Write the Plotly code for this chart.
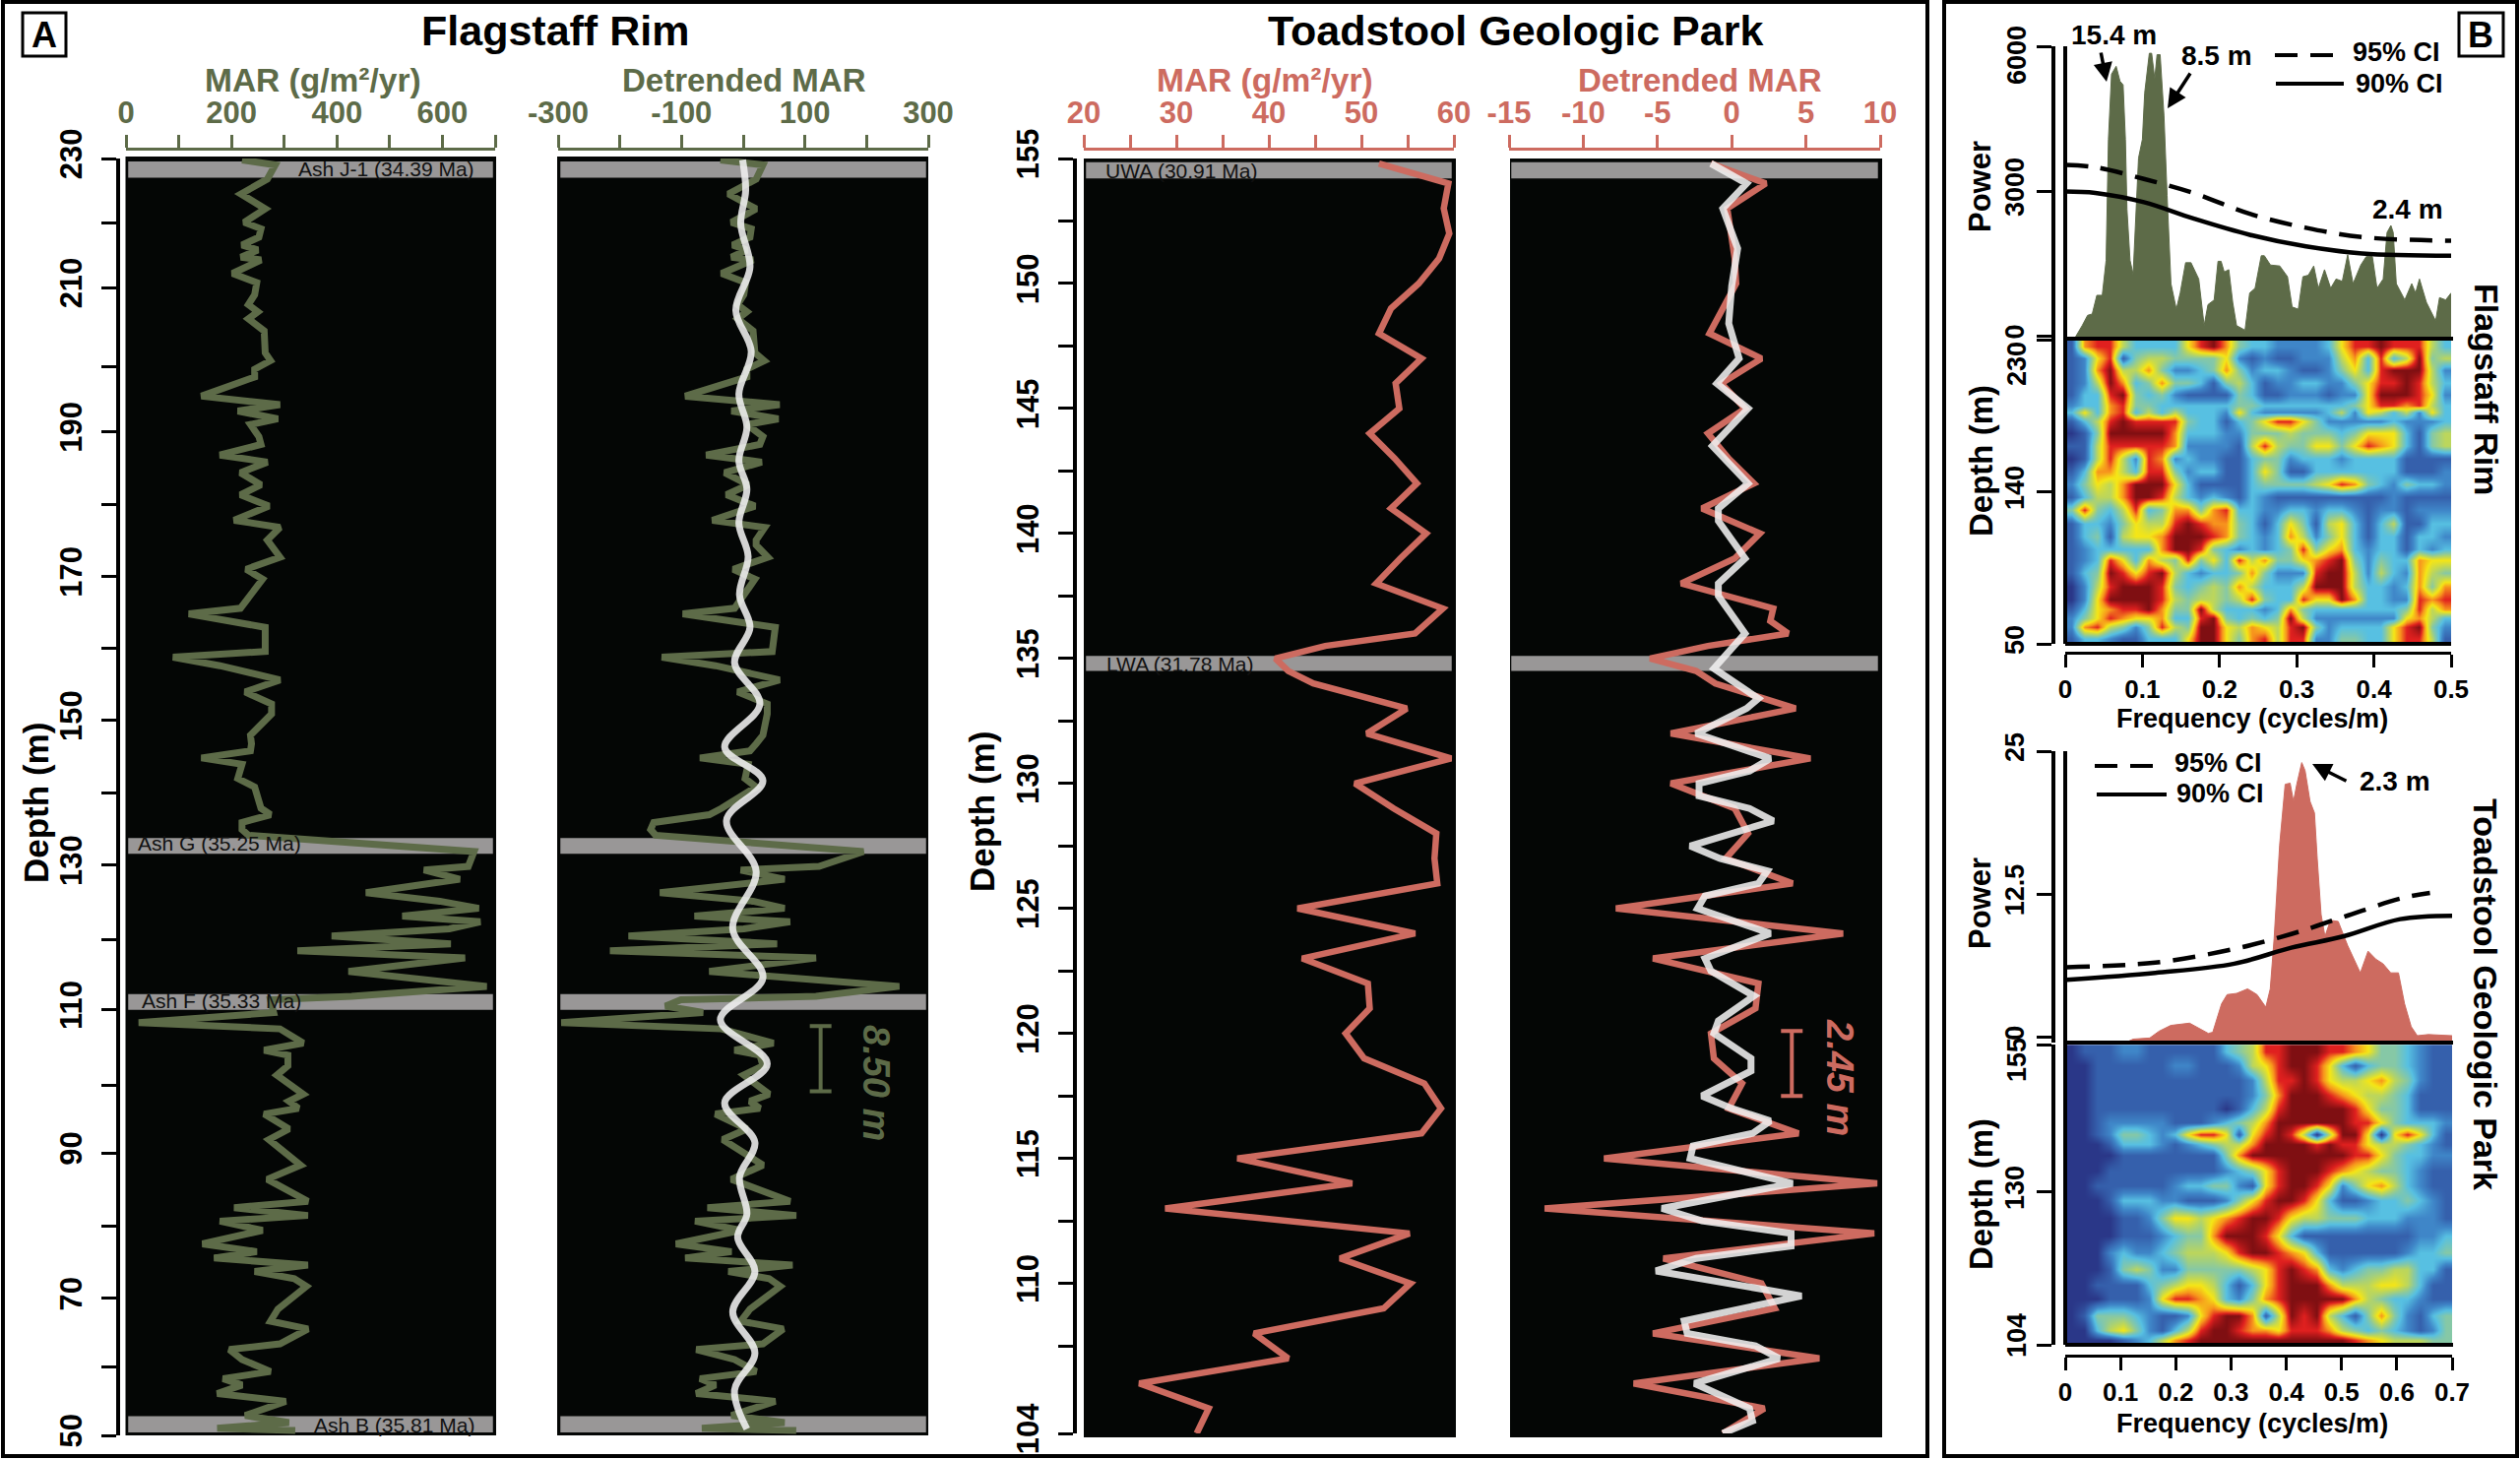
import plotly.graph_objects as go

W, H = 2560, 1482
FONT = "Liberation Sans"
GREEN = "#5d6b48"
SALMON = "#cd6b60"
BLACK = "#040605"
ASH = "#999797"
WHITE_LINE = "rgba(240,240,240,0.88)"

# Flagstaff Rim
fr_depth = [229.8, 229.1, 227.1, 225.0, 222.9, 221.0, 220.1, 218.9, 217.8, 217.1,
            216.1, 215.7, 213.8, 212.5, 210.8, 209.4, 208.4, 207.4, 205.7, 202.6,
            201.5, 200.3, 199.2, 196.5, 195.3, 194.4, 193.3, 192.5, 190.8, 189.7,
            188.2, 187.2, 185.7, 184.0, 182.6, 181.0, 179.0, 178.0, 176.2, 175.5,
            173.8, 172.1, 170.7, 166.6, 165.8, 163.9, 160.5, 159.7, 158.5, 156.5,
            154.8, 153.1, 151.7, 148.7, 147.5, 146.5, 145.5, 144.6, 142.6, 141.4,
            138.4, 137.5, 136.4, 135.4, 134.6, 132.3, 130.2, 129.7, 128.4, 126.5,
            125.3, 124.3, 123.2, 122.4, 121.4, 120.4, 119.3, 118.3, 117.3, 115.4,
            113.3, 111.9, 111.4, 110.5, 109.6, 108.2, 107.3, 105.3, 104.3, 103.6,
            102.1, 100.8, 98.1, 97.1, 96.1, 95.3, 93.2, 91.7, 88.1, 86.1,
            83.0, 82.1, 81.0, 80.2, 78.9, 77.0, 75.9, 75.0, 74.0, 73.1,
            72.1, 71.0, 67.8, 66.1, 65.0, 62.9, 62.1, 60.7, 59.0, 58.0,
            57.1, 55.9, 54.8, 52.8, 51.8, 51.0, 50.7]
fr_mar = [220, 283, 268, 218, 264, 224, 256, 252, 220, 250,
          218, 256, 202, 248, 244, 232, 250, 232, 262, 264,
          274, 244, 244, 143, 292, 212, 288, 236, 252, 256,
          178, 268, 217, 256, 217, 271, 205, 292, 268, 276,
          292, 228, 259, 217, 119, 264, 264, 89, 178, 292,
          226, 276, 276, 236, 238, 236, 143, 220, 212, 244,
          256, 274, 220, 220, 232, 660, 649, 565, 633, 455,
          595, 669, 524, 672, 613, 390, 616, 325, 643, 422,
          684, 428, 274, 277, 280, 24, 292, 336, 262, 307,
          307, 286, 336, 309, 327, 262, 309, 271, 331, 268,
          345, 205, 345, 178, 259, 145, 248, 167, 345, 244,
          319, 342, 288, 274, 345, 292, 196, 220, 274, 184,
          220, 173, 303, 226, 309, 173, 321]
fr_detrended = [-37, 32, 21, -24, 21, -19, 13, 11, -17, 6,
                -19, 16, -35, 4, 1, -9, 6, -9, 16, 19,
                34, 6, 6, -94, 59, -19, 57, 6, 32, 27,
                -60, 30, -30, 8, -27, 19, -50, 35, 21, 21,
                40, -16, 19, -14, -98, 52, 47, -132, -45, 59,
                -9, 39, 39, 32, 21, 11, -70, 8, 3, 21,
                -35, -55, -145, -150, -142, 195, 123, -4, 67, -135,
                16, 67, -79, 76, 1, -186, 55, -216, 118, -55,
                253, 118, -101, -126, -65, -295, -35, 49, -14, 27,
                32, 1, 42, 11, 27, -45, 6, -33, 32, -19,
                76, -58, 86, -78, -4, -109, -19, -94, 80, -24,
                42, 60, 11, -4, 65, 32, -76, -14, 21, -70,
                -45, -76, 52, -19, 67, -67, 86]
fr_smooth_depth = [229.8, 225.5, 220.8, 214.7, 208.6, 202.8, 196.8, 192.1, 187.4, 183.4,
                   178.6, 173.9, 168.5, 163.9, 158.9, 153.1, 147.0, 142.3, 136.7, 129.5,
                   121.4, 114.5, 108.6, 102.4, 96.9, 91.3, 86.4, 81.2, 77.9, 73.1,
                   67.4, 61.6, 56.4, 50.9]
fr_smooth = [-1, 4, -4, 11, -12, 13, -7, 6, -7, 6,
             -7, 8, -6, 11, -14, 27, -30, 32, -27, 21,
             -17, 32, -37, 39, -30, 19, -6, 6, -9, 19,
             -17, 19, -14, 6]
fr_ash = [(229.6, 227.3), (134.2, 132.0), (112.2, 110.0), (52.7, 50.4)]
# the ticks are not evenly spaced in the figure, so they are read off one by one
fr_ticks = [230, 220.9, 211.8, 200.7, 191.5, 181.2, 171.1, 160.9, 150.8, 140.5,
            130.4, 119.9, 110, 99.4, 89.8, 79.5, 69.3, 59.7, 50]
fr_text = ["230", "", "210", "", "190", "", "170", "", "150", "",
           "130", "", "110", "", "90", "", "70", "", "50"]

# Toadstool Geologic Park
tg_depth = [154.8, 154, 153, 152, 151, 150, 149, 148, 147, 146,
            145, 144, 143, 142, 141, 140, 139, 138, 137, 136.5,
            136, 135.5, 135, 134.5, 134, 133, 132, 131, 130, 129,
            128, 127, 126, 125, 124, 123, 122, 121, 120, 119,
            118, 117, 116, 115, 114, 113, 112, 111, 110, 109,
            108, 107, 106, 105, 104]
tg_mar = [51.9, 59.4, 58.9, 59.5, 58.4, 56.2, 53.2, 51.9, 56.5, 53.7,
          54.1, 50.9, 53.6, 56, 53.2, 57, 54.2, 51.6, 58.8, 57.3,
          55.8, 46.1, 40.7, 42.1, 44.8, 54.9, 50.6, 59.7, 49.3, 53.5,
          58.1, 57.9, 58.2, 43.1, 55.8, 43.6, 50.7, 50.9, 48.3, 50.3,
          56.8, 58.6, 56.5, 36.6, 49, 28.8, 55.2, 47.7, 55.3, 52.4,
          38.4, 42.1, 26, 33.5, 32.2]
tg_detrended = [-1.4, 2.3, -0.3, 0, 0.2, 0.3, -0.6, -1.5, 2, -0.7,
                0.9, -1.6, -0.2, 1.5, -2, 1.9, 0.2, -3.4, 2.8, 2.6,
                3.8, -1.6, -5.5, -2.4, -1.1, 4.3, -4.1, 5.3, -4.1, 0.2,
                1.1, -0.4, 4.1, -7.8, 7.5, -5.3, 1.8, 1.6, -1.4, -1.2,
                0.7, -0.2, 4.5, -8.6, 9.8, -12.6, 9.6, -4.6, 2, 2.9,
                -5.3, 5.9, -6.6, 2.2, -0.6]
tg_smooth_depth = [154.8, 154, 153, 151.4, 149.9, 148.4, 147, 146, 145, 143.5,
                   142, 141, 140.5, 139, 138, 137.5, 136, 134.6, 133.4, 133,
                   132, 131, 130.5, 130, 129.5, 129, 128.5, 127.5, 127, 126.5,
                   126, 125.5, 125, 124, 123, 122.5, 121.5, 120.5, 120, 119,
                   118.5, 117.5, 117, 116.5, 116, 115.5, 115, 114, 113, 112.5,
                   112, 111.5, 111, 110.5, 109.5, 108.5, 108, 107.5, 107, 106,
                   105, 104.5, 104]
tg_smooth = [-1.4, 1.0, -0.6, 0.4, 0, -0.2, 0.5, -1.0, 1.1, -1.3,
             1.1, -0.9, -0.9, 0.9, -0.9, -0.9, 0.9, -1.2, 1.8, 1.0,
             -2.4, 2.6, 1.2, -2.2, -2.2, 1.2, 2.8, -2.8, -0.8, 2.4,
             1.8, -1.8, -2.3, 2.6, -1.8, -1.4, 1.5, -0.9, -1.2, 1.3,
             1.3, -2.0, 0, 2.6, 1.4, -2.6, -2.8, 4.1, -4.7, -2.0,
             4.0, 4.0, -2.4, -5.1, 4.7, -3.2, -3.0, 1.6, 3.2, -2.5,
             1.2, 1.4, -0.6]
tg_ash = [(154.85, 154.2), (135.1, 134.5)]

# power spectra
fr_freq = [0, .012, .022, .029, .035, .041, .048, .053, .056, .06,
           .066, .071, .075, .078, .08, .084, .088, .092, .095, .1,
           .103, .109, .112, .116, .119, .123, .128, .132, .137, .144,
           .149, .156, .163, .173, .177, .18, .185, .193, .198, .202,
           .206, .212, .217, .222, .233, .239, .246, .254, .258, .266,
           .278, .288, .294, .302, .308, .315, .322, .328, .336, .344,
           .351, .359, .366, .373, .383, .39, .398, .404, .412, .417,
           .422, .425, .429, .44, .449, .454, .459, .468, .48, .485,
           .493, .5]
fr_power = [-80, -60, 212, 424, 453, 839, 839, 1563, 4070, 5421,
            5585, 5276, 5200, 4071, 2624, 1563, 1273, 2624, 3685, 4070,
            5035, 5855, 5855, 5325, 5826, 5826, 4553, 2913, 1080, 550,
            887, 1514, 1514, 1177, 598, 212, 646, 743, 1543, 1543,
            1322, 1370, 694, 212, 116, 887, 984, 1659, 1659, 1466,
            1447, 1225, 598, 550, 1225, 1254, 1447, 984, 1370, 984,
            1177, 1129, 1678, 1080, 1466, 1640, 1640, 984, 1177, 2141,
            2286, 2141, 1080, 743, 1080, 887, 1177, 694, 309, 791,
            743, 887]
fr_ci_freq = [0, .039, .102, .166, .239, .312, .385, .5]
fr_ci95 = [3540, 3492, 3251, 2961, 2527, 2238, 2045, 1968]
fr_ci90 = [2990, 2961, 2768, 2431, 2093, 1852, 1707, 1659]

tg_freq = [0, .109, .123, .153, .17, .191, .225, .245, .259, .267,
           .283, .293, .31, .33, .347, .363, .371, .378, .388, .398,
           .407, .413, .419, .428, .434, .443, .451, .456, .463, .47,
           .48, .494, .511, .534, .548, .562, .575, .589, .603, .614,
           .626, .637, .657, .7]
tg_power = [-0.5, -0.5, -0.2, -0.1, 0.5, 1.0, 1.2, 0.7, 0.3, 0.4,
            2.9, 3.7, 3.8, 4.2, 3.7, 2.6, 4.2, 8.6, 16.8, 22.1,
            22.2, 20.6, 22.1, 24.0, 23.3, 20.6, 19.6, 15.6, 10.7, 8.8,
            10.2, 10.1, 8.0, 5.6, 7.5, 6.8, 6.4, 5.6, 5.6, 2.9,
            0.9, 0.1, 0.2, 0.1]
tg_ci_freq = [.003, .163, .306, .409, .504, .606, .66]
tg_ci95 = [6.1, 6.5, 7.7, 9.0, 10.5, 12.1, 12.6]
tg_ci90_freq = [.003, .163, .306, .409, .504, .606, .7]
tg_ci90 = [5.0, 5.6, 6.4, 7.8, 8.8, 10.3, 10.6]

# evolutive spectra, colour level 0-9 per frequency bin, top row first
fr_evo_depth = [226.1, 219.2, 211.8, 204.6, 197.3, 190.9, 187.0, 181.7, 174.6, 167.4,
                159.6, 152.3, 144.5, 137.1, 129.2, 121.4, 113.6, 105.8, 99.9, 92.1,
                84.2, 76.4, 70.5, 65.1, 59.8, 52.9]
fr_evo = ["1788533336 8974332222 3688988853",
          "1268145544 4462121122 2573835945",
          "1279557422 3474233211 2463899952",
          "1259734744 3145312233 2246889853",
          "1338943421 1114311222 1226999862",
          "2337844333 3334433333 3346887853",
          "3637835353 3326322222 3526535263",
          "1358988884 3313468864 2222232223",
          "0149999973 3322444544 4346663145",
          "1158888872 2221585446 6468763145",
          "0158528723 2211344233 3233331111",
          "1377538842 3311364113 3333331112",
          "2465799963 1111344445 6874324332",
          "1355799853 2321321111 1111121111",
          "4843583477 4783322332 3321221222",
          "1332465589 8774313641 5631351133",
          "1341566799 9874323752 4631331332",
          "1233333799 8432323484 6732331323",
          "1238637548 4638574467 8942433766",
          "1349868953 2334742228 9952532754",
          "0258999843 4547533359 9953323747",
          "0269999854 5545843386 6973322878",
          "1367889744 9533323743 3333334857",
          "2468766733 8943434952 2222226753",
          "2785424854 9965765894 2333368942",
          "1332113336 9964785882 2443368851"]
tg_evo_depth = [153.8, 151.5, 149.0, 146.5, 144.0, 141.7, 139.8, 138.1, 136.2, 133.6,
                131.1, 128.6, 125.5, 122.5, 119.7, 116.9, 114.1, 111.8, 109.0, 106.5,
                104.8]
tg_evo = ["0111221111 1134588999 8876443211",
          "0011111122 1112568998 6313443211",
          "0011111111 1111258898 6556754211",
          "0011111111 1111247999 8765543111",
          "0011111111 1101358999 9986443111",
          "0012222211 1234579999 9988643332",
          "0012443236 8861689850 5996068631",
          "0001333212 3455799998 9886554321",
          "0000111111 1147999999 9988643322",
          "0001111111 1123468999 8765443211",
          "0011111123 3442168998 6246753211",
          "0001333221 1124689986 3112334321",
          "0000112466 5678998655 4443332221",
          "0000111234 4799986311 1111111223",
          "0002322345 5568998763 1111112334",
          "0001454224 4444568987 3234455331",
          "0011113456 6531368999 7555665311",
          "0001112688 7632478999 9975433211",
          "0144432112 6899715989 5314742134",
          "0035642135 8998776888 7543432124",
          "0000123578 9999999999 9987655544"]
evo_colors = ["#2a3788", "#3560ac", "#3f86c8", "#57c0e2", "#86c8a6",
              "#bcd65c", "#f5e616", "#f7941d", "#e0201f", "#7f0f12"]
evo_scale = [[i / 9, c] for i, c in enumerate(evo_colors)]


def px(x):
    return x / W


def py(y):
    return 1 - y / H


def xid(n):
    return "x" if n == 1 else f"x{n}"


def yid(n):
    return "y" if n == 1 else f"y{n}"


def levels(rows):
    return [[int(c) for c in r.replace(" ", "")] for r in rows][::-1]


def xax(left, right, rng, vals, text, color, line_y, side="top", size=31):
    return dict(domain=[px(left), px(right)], range=rng, anchor="free", position=py(line_y),
                side=side, tickmode="array", tickvals=vals, ticktext=text, ticks="outside",
                ticklen=13, tickwidth=3, tickcolor=color, showline=True, linecolor=color,
                linewidth=3, showgrid=False, zeroline=False, tickangle=0,
                tickfont=dict(family=FONT, size=size, color=color, weight=700))


def yax(top, bot, rng, vals, text, line_x, size=31, standoff=8):
    return dict(domain=[py(bot), py(top)], range=rng, anchor="free", position=px(line_x),
                side="left", tickmode="array", tickvals=vals, ticktext=text, ticks="outside",
                ticklen=15, tickwidth=3, tickcolor="black", showline=True, linecolor="black",
                linewidth=4, showgrid=False, zeroline=False, tickangle=-90,
                ticklabelstandoff=standoff,
                tickfont=dict(family=FONT, size=size, color="black", weight=700))


def label(text, x, y, size, color="black", angle=0, weight=700, style="normal"):
    return dict(text=text, x=px(x), y=py(y), xref="paper", yref="paper", showarrow=False,
                xanchor="center", yanchor="middle", textangle=angle,
                font=dict(family=FONT, size=size, color=color, weight=weight, style=style))


def arrow(x0, y0, x1, y1):
    return dict(text="", x=px(x1), y=py(y1), xref="paper", yref="paper", showarrow=True,
                ax=x0 - x1, ay=y0 - y1, arrowhead=2, arrowsize=1.1, arrowwidth=3.5,
                arrowcolor="black")


def box(x0, y0, x1, y1, width=3, fill=None, layer="above"):
    s = dict(type="rect", xref="paper", yref="paper", x0=px(x0), x1=px(x1), y0=py(y0), y1=py(y1),
             line=dict(color="black", width=width), layer=layer)
    if fill:
        s["fillcolor"] = fill
    return s


def hline(x0, x1, y, width=4, dash=None):
    return dict(type="line", xref="paper", yref="paper", x0=px(x0), x1=px(x1), y0=py(y), y1=py(y),
                line=dict(color="black", width=width, dash=dash), layer="above")


def vline(x, y0, y1, width=4):
    return dict(type="line", xref="paper", yref="paper", x0=px(x), x1=px(x), y0=py(y0), y1=py(y1),
                line=dict(color="black", width=width), layer="above")


def ash_band(n, band):
    return dict(type="rect", xref=f"{xid(n)} domain", yref=yid(n), x0=0.006, x1=0.994,
                y0=band[0], y1=band[1], fillcolor=ASH, line=dict(width=0), layer="below")


fig = go.Figure()


def line(x, y, n, color, width, shape="linear", dash=None):
    fig.add_trace(go.Scatter(x=x, y=y, xaxis=xid(n), yaxis=yid(n), mode="lines", showlegend=False,
                             line=dict(color=color, width=width, shape=shape, dash=dash)))


def bar(x, y, half, n, color, cap):
    fig.add_trace(go.Scatter(x=[x], y=[y], xaxis=xid(n), yaxis=yid(n), mode="markers", showlegend=False,
                             marker=dict(size=1, color=color),
                             error_y=dict(type="constant", value=half, color=color, thickness=4, width=cap)))


def spectrum(freq, power, low, top, n, color):
    fig.add_trace(go.Scatter(x=[0, top], y=[low, low], xaxis=xid(n), yaxis=yid(n), mode="lines",
                             showlegend=False, line=dict(width=0)))
    fig.add_trace(go.Scatter(x=freq, y=power, xaxis=xid(n), yaxis=yid(n), mode="lines", showlegend=False,
                             fill="tonexty", fillcolor=color, line=dict(color=color, width=1)))


line(fr_mar, fr_depth, 1, GREEN, 7)
line(fr_detrended, fr_depth, 2, GREEN, 7)
line(fr_smooth, fr_smooth_depth, 2, WHITE_LINE, 7, shape="spline")
bar(125.5, 103.1, 4.6, 2, GREEN, 11)
line(tg_mar, tg_depth, 3, SALMON, 6.5)
line(tg_detrended, tg_depth, 4, SALMON, 6.5)
line(tg_smooth, tg_smooth_depth, 4, WHITE_LINE, 7)
bar(4.05, 118.8, 1.3, 4, SALMON, 11)

spectrum(fr_freq, fr_power, -80, 0.5, 5, GREEN)
line(fr_ci_freq, fr_ci95, 5, "black", 4.5, shape="spline", dash="23px,13px")
line(fr_ci_freq, fr_ci90, 5, "black", 4.5, shape="spline")
spectrum(tg_freq, tg_power, -0.5, 0.7, 7, SALMON)
line(tg_ci_freq, tg_ci95, 7, "black", 4.5, shape="spline", dash="23px,13px")
line(tg_ci90_freq, tg_ci90, 7, "black", 4.5, shape="spline")

fig.add_trace(go.Heatmap(z=levels(fr_evo), y=fr_evo_depth[::-1], x0=0.5 / 60, dx=0.5 / 30,
                         xaxis="x6", yaxis="y6", colorscale=evo_scale, zmin=0, zmax=9,
                         zsmooth="best", showscale=False))
fig.add_trace(go.Heatmap(z=levels(tg_evo), y=tg_evo_depth[::-1], x0=0.7 / 60, dx=0.7 / 30,
                         xaxis="x8", yaxis="y8", colorscale=evo_scale, zmin=0, zmax=9,
                         zsmooth="best", showscale=False))

tg_ticks = [155 - 2.5 * i for i in range(20)] + [104]
tg_text = [str(int(t)) if t % 5 == 0 else "" for t in tg_ticks[:-1]] + ["104"]

layout = dict(
    width=W, height=H, margin=dict(l=0, r=0, t=0, b=0, autoexpand=False), autosize=False,
    paper_bgcolor="white", plot_bgcolor="white", showlegend=False,
    xaxis=xax(128, 503, [0, 700], list(range(0, 800, 100)),
              ["0", "", "200", "", "400", "", "600", ""], GREEN, 151),
    yaxis=yax(161, 1458, [50, 230], fr_ticks, fr_text, 120),
    xaxis2=xax(567, 943, [-300, 300], list(range(-300, 400, 100)),
               ["-300", "", "-100", "", "100", "", "300"], GREEN, 151),
    yaxis2=dict(domain=[py(1458), py(161)], range=[50, 230], anchor="x2", visible=False),
    xaxis3=xax(1101, 1477, [20, 60], list(range(20, 65, 5)),
               ["20", "", "30", "", "40", "", "50", "", "60"], SALMON, 151),
    yaxis3=yax(161, 1456, [104, 155], tg_ticks, tg_text, 1092),
    xaxis4=xax(1533, 1910, [-15, 10], list(range(-15, 15, 5)),
               ["-15", "-10", "-5", "0", "5", "10"], SALMON, 151),
    yaxis4=dict(domain=[py(1456), py(161)], range=[104, 155], anchor="x4", visible=False),
    xaxis5=dict(domain=[px(2098), px(2490)], range=[0, 0.5], visible=False, anchor="y5"),
    yaxis5=yax(47, 345, [-80, 6000], [0, 3000, 6000], ["0", "3000", ""], 2086, size=27, standoff=2),
    xaxis6=xax(2098, 2490, [0, 0.5], [0, .1, .2, .3, .4, .5],
               ["0", "0.1", "0.2", "0.3", "0.4", "0.5"], "black", 663, side="bottom", size=26),
    yaxis6=yax(345, 654, [50, 230], [230, 140, 50], ["", "140", "50"], 2086, size=27, standoff=2),
    xaxis7=dict(domain=[px(2098), px(2491)], range=[0, 0.7], visible=False, anchor="y7"),
    yaxis7=yax(763, 1059, [-0.5, 25], [0, 12.5, 25], ["0", "12.5", "25"], 2086, size=27, standoff=2),
    xaxis8=xax(2098, 2491, [0, 0.7], [0, .1, .2, .3, .4, .5, .6, .7],
               ["0", "0.1", "0.2", "0.3", "0.4", "0.5", "0.6", "0.7"], "black", 1377, side="bottom", size=26),
    yaxis8=yax(1061, 1366, [104, 155], [155, 130, 104], ["", "130", ""], 2086, size=27, standoff=2),
)
fig.update_layout(**layout)

shapes = [
    box(127.5, 159, 504, 1458, width=0, fill=BLACK, layer="below"),
    box(566, 159, 943, 1458, width=0, fill=BLACK, layer="below"),
    box(1101, 161, 1479, 1460, width=0, fill=BLACK, layer="below"),
    box(1534, 161, 1912, 1460, width=0, fill=BLACK, layer="below"),
]
for n in (1, 2):
    shapes += [ash_band(n, b) for b in fr_ash]
for n in (3, 4):
    shapes += [ash_band(n, b) for b in tg_ash]
shapes += [
    box(3, 2, 1958, 1479, width=4), box(1975, 2, 2557, 1479, width=4),
    box(23, 13, 67, 57), box(2498, 13, 2543, 57),
    vline(2098, 47, 654), hline(2098, 2492, 344), hline(2098, 2490, 654),
    vline(2098, 763, 1366), hline(2098, 2492, 1059), hline(2098, 2492, 1366),
    hline(2311, 2379, 56, dash="23px,13px"), hline(2312, 2381, 85),
    hline(2128, 2197, 778, dash="23px,13px"), hline(2130, 2201, 807),
]

annotations = [
    label("A", 45, 35, 36), label("B", 2520, 35, 36),
    label("Flagstaff Rim", 564, 31, 43), label("Toadstool Geologic Park", 1539, 31, 43),
    label("MAR (g/m²/yr)", 318, 82, 33.5, GREEN), label("Detrended MAR", 756, 82, 33, GREEN),
    label("MAR (g/m²/yr)", 1285, 82, 33.5, SALMON), label("Detrended MAR", 1727, 82, 33, SALMON),
    label("Depth (m)", 36, 816, 35, angle=-90), label("Depth (m)", 997, 825, 35, angle=-90),
    label("Ash J-1 (34.39 Ma)", 392, 171, 21, "#111111", weight=400),
    label("Ash G (35.25 Ma)", 223, 856, 21, "#111111", weight=400),
    label("Ash F (35.33 Ma)", 225, 1016, 21, "#111111", weight=400),
    label("Ash B (35.81 Ma)", 400, 1447, 21, "#111111", weight=400),
    label("UWA (30.91 Ma)", 1200, 173, 21, "#111111", weight=400),
    label("LWA (31.78 Ma)", 1198, 674, 21, "#111111", weight=400),
    label("8.50 m", 890, 1100, 38, GREEN, angle=90, style="italic"),
    label("2.45 m", 1869, 1094, 38, SALMON, angle=90, style="italic"),
    label("15.4 m", 2147, 35, 28), label("8.5 m", 2252, 57, 28), label("2.4 m", 2446, 213, 28),
    label("95% CI", 2434, 53, 27), label("90% CI", 2437, 85, 27),
    label("95% CI", 2253, 775, 27), label("90% CI", 2255, 806, 27),
    label("2.3 m", 2433, 794, 28),
    label("Power", 2012, 190, 31, angle=-90), label("Depth (m)", 2012, 468, 33, angle=-90),
    label("Power", 2012, 918, 31, angle=-90), label("Depth (m)", 2012, 1213, 33, angle=-90),
    label("Frequency (cycles/m)", 2288, 730, 27), label("Frequency (cycles/m)", 2288, 1446, 27),
    label("Flagstaff Rim", 2526, 395, 34, angle=90), label("Toadstool Geologic Park", 2525, 1010, 34, angle=90),
    label("6000", 2049, 56, 27, angle=-90), label("230", 2049, 370, 27, angle=-90),
    label("155", 2049, 1077, 27, angle=-90), label("104", 2049, 1357, 27, angle=-90),
    arrow(2134, 52, 2140, 83), arrow(2226, 73, 2202, 110), arrow(2385, 794, 2349, 776),
]
fig.update_layout(shapes=shapes, annotations=annotations)

fig.write_html("out.html", config={"displayModeBar": False},
               post_script="document.body.style.margin='0';")
